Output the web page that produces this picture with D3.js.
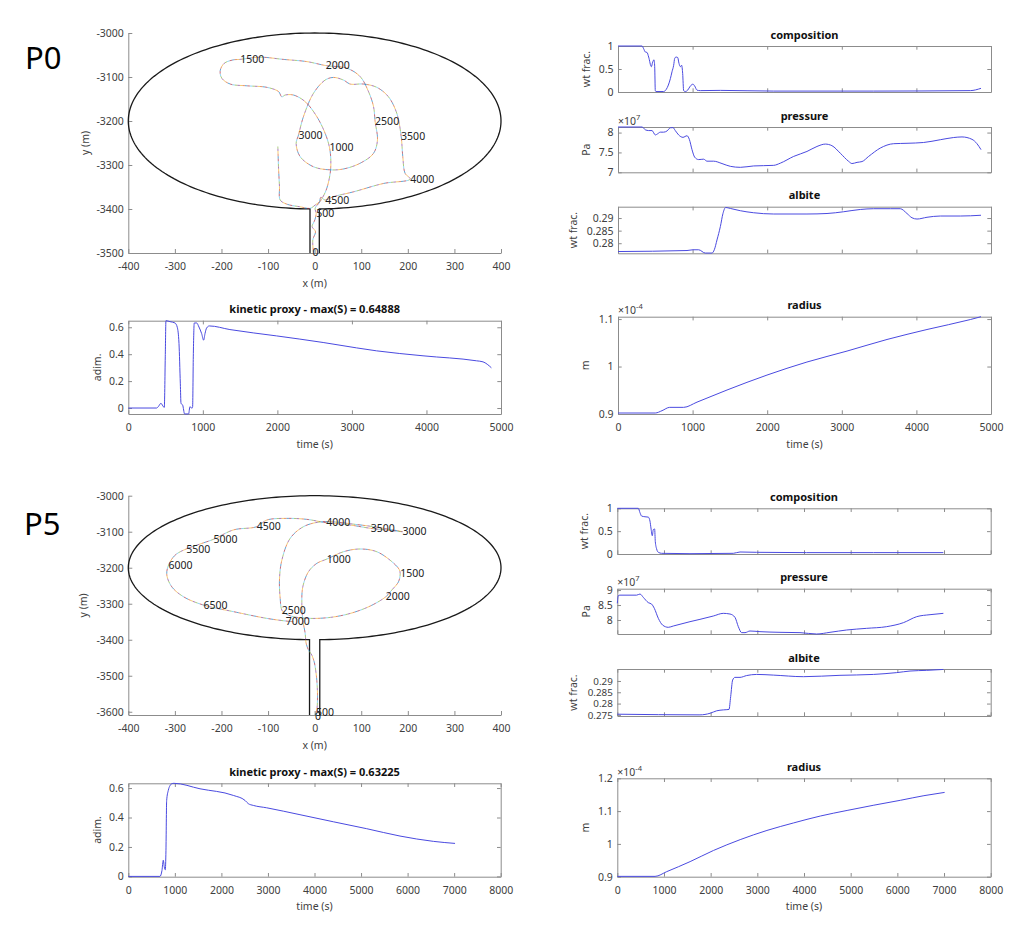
<!DOCTYPE html>
<html><head><meta charset="utf-8">
<script src="https://cdn.jsdelivr.net/npm/d3@7"></script>
<style>body{margin:0;background:#fff}svg{display:block;font-family:"Noto Sans","Open Sans",sans-serif}</style>
</head><body><svg id="c" width="1024" height="930"></svg>
<script>
// ================= DATA =================
// P0 trajectory (m)
const p0TrajX = [-2.5,-3.9,1.8,-5.4,0.4,3.2,1.1, 11.8,24.7,33.3,34.7,31.8, 22.5,4.6,-20.4,-45.4,-63.3,-70.5,-77.6,-102.6,-145.6,-181.3,-199.2,-202.8,-194.2,-174.2,-159.9, -117,-66.9,-16.8,24, 69,97.6,115.5,126.3,129.8, 134.8,126.3,97.6,61.9,33.3,-2.5,-31.1,-39.7,-34.7, -24,-2.5,22.5,40.4,61.9,76.2,104.8,133.4,158.4,176.3,185.6, 189.2,194.2,205, 147.7,83.3,40.4,22.5, 13.2,10.4,1.1,-9.7,-31.1,-59.7,-74,-75.5,-77.6,-79];
const p0TrajY = [-3499,-3470,-3451.5,-3440,-3425,-3410,-3398.5, -3383,-3357,-3319,-3289,-3260, -3228,-3190,-3156,-3141,-3141,-3145,-3133,-3123.5,-3120,-3116,-3103,-3086,-3069,-3061,-3060, -3055,-3060,-3065,-3074, -3080,-3099,-3133,-3167,-3201.5, -3243,-3273.5,-3296,-3309,-3311,-3304,-3281,-3251,-3232, -3190,-3137,-3107,-3101,-3107,-3116,-3116,-3123.5,-3145,-3182.5,-3234, -3281,-3319,-3332, -3342,-3361,-3372,-3379.5, -3373.5,-3383,-3391,-3398.5,-3395,-3389,-3379.5,-3349,-3304,-3258];
const p0LabelT = [0,500,1000,1500,2000,2500,3000,3500,4000,4500];
const p0LabelX = [-4.5,3.2,31.8,-159.9,24,129.8,-34.7,185.6,205,22.5];
const p0LabelY = [-3499,-3410,-3260,-3060,-3074,-3201.5,-3232,-3234,-3332,-3379.5];

// P5 trajectory (m)
const p5TrajX = [1.1,4.6,6.1,4.6,1.1,-1.1,-6.1,-13.2,-18.2,-20.4,-25.4,-27.5,-25.4,-13.2,4.6,26.1, 61.9,97.6,133.4,165.6,181.4,183.6, 180,165.6,152.7, 119.1,76.2,33.3,-9.7,-45.4,-63.3,-70.4, -74,-75.5,-70.4,-52.6,-24,11.8,40.4,83.3,126.3,169.2,188.6, 155,120.5, 76.2,24.7, -16.8,-59.7,-102.6,-124.1, -174.2,-217, -245.7,-275.8, -299.4,-313.7, -317.3,-306.6,-281.5,-238.6, -174.2,-102.6,-61.9,-45.4];
const p5TrajY = [-3609,-3595,-3558,-3512,-3475,-3461,-3442.6,-3428.7,-3410,-3382,-3345,-3299,-3253,-3211,-3188,-3176, -3155.6,-3148,-3155.6,-3183,-3204.6,-3215.7, -3239,-3262,-3280.6, -3306.5,-3327,-3338,-3340.7,-3336,-3327,-3317.6, -3285,-3234,-3179,-3118.5,-3086,-3072.7,-3072.7,-3079,-3086,-3095.4,-3100, -3095.4,-3090.7, -3081.5,-3075, -3065.7,-3063,-3067.6,-3086, -3095,-3121, -3134,-3148, -3165,-3193, -3220,-3253,-3280.6,-3303.7, -3322,-3340.7,-3348,-3350];
const p5LabelT = [0,500,1000,1500,2000,2500,3000,3500,4000,4500,5000,5500,6000,6500,7000];
const p5LabelX = [1,3,26.1,183.6,152.7,-70.4,188.6,120.5,24.7,-124.1,-217,-275.8,-313.7,-238.6,-61.9];
const p5LabelY = [-3614,-3602,-3176,-3215.7,-3280.6,-3317.6,-3100,-3090.7,-3075,-3086,-3121,-3148,-3193,-3303.7,-3348];

// chamber geometry (m): ellipse centre y, semi-axes, conduit half-width, conduit bottom
const chamberCY = -3200, chamberA = 400, chamberB = 200;
const conduitHW = [10, 11];
const conduitBottom = [-3500, -3609];

// P0 time series
const p0CompT = [0,322,344,366,389,411,447,465,483,492,500,509,612,648,702,724,746,760,777,800,818,836,853,867,880,902,934,970,1005,1028,1059,1104,1372,2087,3427,4723,4866];
const p0CompV = [1,1,0.94,0.87,0.86,0.76,0.55,0.65,0.70,0.55,0.03,0.01,0.01,0.06,0.29,0.44,0.58,0.73,0.76,0.75,0.62,0.55,0.58,0.40,0.03,0.01,0.04,0.13,0.17,0.13,0.04,0.03,0.035,0.02,0.02,0.03,0.08];
const p0PresT = [0,322,366,411,456,500,532,567,612,657,702,737,768,813,871,925,956,992,1028,1081,1148,1193,1282,1394,1506,1640,1818,2087,2176,2355,2533,2667,2779,2868,2980,3092,3137,3204,3271,3360,3516,3695,3874,4097,4321,4500,4611,4745,4812,4866];
const p0PresV = [8.14,8.14,8.07,8.05,8.05,7.94,7.97,8.01,8.01,8.04,8.12,8.125,8.05,7.94,7.88,7.92,7.83,7.57,7.38,7.32,7.33,7.28,7.28,7.22,7.15,7.125,7.16,7.175,7.23,7.4,7.525,7.65,7.71,7.67,7.48,7.275,7.22,7.25,7.27,7.4,7.61,7.72,7.73,7.75,7.82,7.875,7.89,7.83,7.72,7.57]; // x1e7 Pa
const p0AlbT = [0,925,1005,1081,1170,1260,1291,1327,1372,1407,1443,1506,1640,1818,2087,2533,2802,3025,3248,3427,3650,3784,3874,3941,4008,4142,4321,4589,4866];
const p0AlbV = [0.2767,0.2771,0.2774,0.2774,0.2761,0.2761,0.2774,0.2813,0.2866,0.2918,0.2942,0.2938,0.2929,0.2921,0.2916,0.2916,0.2918,0.2925,0.2934,0.2937,0.2937,0.2937,0.2918,0.2901,0.2896,0.2903,0.2908,0.2908,0.2911];
const p0KinT = [0,380,402,438,470,483,496,505,559,626,657,680,698,707,729,756,809,827,854,863,872,885,917,948,984,1011,1029,1051,1087,1363,1989,2614,3061,3330,3954,4670,4759,4871];
const p0KinV = [0,0,0.01,0.035,0.01,0.005,0.38,0.64888,0.642,0.632,0.60,0.48,0.18,0.035,0.022,-0.044,-0.044,0.01,-0.002,0.01,0.38,0.632,0.632,0.602,0.553,0.504,0.553,0.595,0.61,0.583,0.536,0.487,0.447,0.425,0.388,0.351,0.343,0.299];
const p0RadT = [0,500,590,693,880,1059,1461,1997,2533,3070,3606,4142,4723,4866];
const p0RadV = [0.9021,0.9021,0.907,0.914,0.914,0.925,0.9505,0.982,1.0095,1.0326,1.057,1.078,1.099,1.105]; // x1e-4 m

// P5 time series
const p5CompT = [0,450,486,521,593,664,700,721,750,771,800,814,843,879,950,1557,2486,2629,2986,4057,5486,6986];
const p5CompV = [1,1,0.904,0.83,0.815,0.807,0.72,0.57,0.40,0.533,0.548,0.274,0.11,0.037,0.015,0.007,0.015,0.044,0.037,0.03,0.03,0.03];
const p5PresT = [0,21,57,414,486,557,664,736,793,879,971,1093,1200,1557,1771,2057,2271,2414,2521,2593,2664,2736,2843,3057,3486,3914,4271,4557,4914,5343,5771,6129,6414,6700,6986];
const p5PresV = [8.556,8.81,8.83,8.83,8.867,8.756,8.58,8.53,8.39,8.056,7.83,7.756,7.8,7.944,8.022,8.133,8.222,8.2,8.089,7.778,7.578,7.578,7.633,7.611,7.589,7.578,7.533,7.589,7.667,7.722,7.778,7.911,8.111,8.178,8.222];
const p5AlbT = [0,1771,1986,2129,2271,2393,2429,2471,2521,2629,2771,2986,3343,3986,4771,5486,5986,6271,6629,6986];
const p5AlbV = [0.2753,0.275,0.2757,0.2768,0.2772,0.2774,0.2831,0.2904,0.2916,0.2916,0.2924,0.2929,0.2926,0.2919,0.2925,0.2929,0.2937,0.2944,0.2947,0.2951];
const p5KinT = [0,466,680,723,752,774,795,809,824,859,895,931,981,1540,2256,2507,2578,2686,2972,3688,4405,5121,5837,6553,7019];
const p5KinV = [0,0,0,0.04,0.11,0.063,0.045,0.177,0.516,0.584,0.616,0.629,0.63225,0.595,0.55,0.516,0.494,0.482,0.466,0.419,0.371,0.324,0.274,0.238,0.224];
const p5RadT = [0,809,1059,1560,2061,2633,3206,3778,4351,4923,5496,6068,6569,7013];
const p5RadV = [0.901,0.901,0.9154,0.946,0.980,1.013,1.041,1.064,1.085,1.102,1.118,1.133,1.147,1.157];

// tick values
const trajXTicks = [-400,-300,-200,-100,0,100,200,300,400];
const p0TrajYTicks = [-3500,-3400,-3300,-3200,-3100,-3000];
const p5TrajYTicks = [-3600,-3500,-3400,-3300,-3200,-3100,-3000];
const p0TimeTicks = [0,1000,2000,3000,4000,5000];
const p5TimeTicks = [0,1000,2000,3000,4000,5000,6000,7000,8000];
const compTicks = [0,0.5,1];
const p0PresTicks = [7,7.5,8];
const p5PresTicks = [8,8.5,9];
const p0AlbTicks = [0.28,0.285,0.29];
const p5AlbTicks = [0.275,0.28,0.285,0.29];
const p0RadTicks = [0.9,1,1.1];
const p5RadTicks = [0.9,1,1.1,1.2];
const kinTicks = [0,0.2,0.4,0.6];
const trajColors = ['#0072BD','#D95319','#EDB120','#7E2F8E','#77AC30','#4DBEEE','#A2142F'];

// ================= DRAW =================
const svg = d3.select('#c');
const AX = '#8c8c8c', TXT = '#404040', FS = 10.5, TL = 3.7;
const fmt = v => String(v);
const zip = (a, b) => a.map((v, i) => [v, b[i]]);

function styleAxis(g, fs) {
  g.attr('font-family', null).attr('font-size', fs || FS);
  g.selectAll('.domain').attr('stroke', AX);
  g.selectAll('.tick line').attr('stroke', AX);
  g.selectAll('.tick text').attr('fill', TXT);
}

function expLabel(x0, yb, e) {
  const t = svg.append('text').attr('x', x0).attr('y', yb).attr('font-size', FS).attr('fill', TXT);
  t.append('tspan').text('×10');
  t.append('tspan').attr('dy', -5).attr('font-size', 7.5).text(e);
}

function seriesPanel(o) {
  const x = d3.scaleLinear().domain(o.xDomain).range([o.x0, o.x1]);
  const y = d3.scaleLinear().domain(o.yDomain).range([o.y1, o.y0]);
  const g = svg.append('g');
  const fx = o.xLabels ? fmt : () => '';
  styleAxis(g.append('g').attr('transform', `translate(0,${o.y1})`)
    .call(d3.axisBottom(x).tickValues(o.xTicks).tickSizeInner(-TL).tickSizeOuter(0).tickPadding(9.4).tickFormat(fx)));
  styleAxis(g.append('g').attr('transform', `translate(0,${o.y0})`)
    .call(d3.axisTop(x).tickValues(o.xTicks).tickSizeInner(-TL).tickSizeOuter(0).tickFormat(() => '')));
  styleAxis(g.append('g').attr('transform', `translate(${o.x0},0)`)
    .call(d3.axisLeft(y).tickValues(o.yTicks).tickSizeInner(-TL).tickSizeOuter(0).tickPadding(4.5).tickFormat(fmt)), o.yfs);
  styleAxis(g.append('g').attr('transform', `translate(${o.x1},0)`)
    .call(d3.axisRight(y).tickValues(o.yTicks).tickSizeInner(-TL).tickSizeOuter(0).tickFormat(() => '')));
  g.append('path')
    .datum(zip(o.t, o.v))
    .attr('d', d3.line().x(d => x(d[0])).y(d => y(d[1])).curve(d3.curveMonotoneX))
    .attr('fill', 'none').attr('stroke', '#4a4ae0').attr('stroke-width', 1);
  g.append('text').attr('x', (o.x0 + o.x1) / 2).attr('y', o.y0 - 7.5)
    .attr('text-anchor', 'middle').attr('font-weight', 'bold').attr('font-size', 11).attr('fill', '#111').text(o.title);
  g.append('text').attr('transform', `translate(${o.ylx},${(o.y0 + o.y1) / 2}) rotate(-90)`)
    .attr('dy', '0.35em').attr('text-anchor', 'middle').attr('font-size', FS).attr('fill', TXT).text(o.ylabel);
  if (o.xlabel) g.append('text').attr('x', (o.x0 + o.x1) / 2).attr('y', o.y1 + 30).attr('dy', '0.35em')
    .attr('text-anchor', 'middle').attr('font-size', FS).attr('fill', TXT).text(o.xlabel);
  if (o.exp) expLabel(o.x0, o.y0 - 2.5, o.exp);
}

function trajPanel(o) {
  const x = d3.scaleLinear().domain([-400, 400]).range([o.x0, o.x1]);
  const y = d3.scaleLinear().domain(o.yDomain).range([o.y1, o.y0]);
  const g = svg.append('g');
  styleAxis(g.append('g').attr('transform', `translate(0,${o.y1})`)
    .call(d3.axisBottom(x).tickValues(trajXTicks).tickSizeInner(-4).tickSizeOuter(0).tickPadding(9.4).tickFormat(fmt)));
  styleAxis(g.append('g').attr('transform', `translate(${o.x0},0)`)
    .call(d3.axisLeft(y).tickValues(o.yTicks).tickSizeInner(-4).tickSizeOuter(0).tickPadding(4.5).tickFormat(fmt)));
  // chamber + conduit outline
  const hw = o.hw, d = Math.asin(hw / chamberA);
  const pts = [[hw, o.yBot]];
  d3.range(0, 241).forEach(i => {
    const th = -Math.PI / 2 + d + (2 * Math.PI - 2 * d) * i / 240;
    pts.push([chamberA * Math.cos(th), chamberCY + chamberB * Math.sin(th)]);
  });
  pts.push([-hw, o.yBot]);
  g.append('path').datum(pts).attr('d', d3.line().x(p => x(p[0])).y(p => y(p[1])))
    .attr('fill', 'none').attr('stroke', '#1a1a1a').attr('stroke-width', 1.3);
  // trajectory (multicolour dashed)
  const line = d3.line().x(p => x(p[0])).y(p => y(p[1])).curve(d3.curveCatmullRom.alpha(0.5));
  const data = zip(o.tx, o.ty);
  const n = trajColors.length, dash = 2.5;
  trajColors.forEach((c, i) => {
    g.append('path').datum(data).attr('d', line).attr('fill', 'none')
      .attr('stroke', c).attr('stroke-width', 0.9).attr('stroke-opacity', 0.7)
      .attr('stroke-dasharray', `${dash} ${dash * (n - 1)}`).attr('stroke-dashoffset', -i * dash);
  });
  // time labels
  o.lt.forEach((t, i) => {
    g.append('text').attr('x', x(o.lx[i])).attr('y', y(o.ly[i])).attr('dy', '0.35em')
      .attr('font-size', FS).attr('fill', '#222').text(t);
  });
  g.append('text').attr('x', x(0)).attr('y', o.y1 + 30).attr('dy', '0.35em')
    .attr('text-anchor', 'middle').attr('font-size', FS).attr('fill', TXT).text('x (m)');
  g.append('text').attr('transform', `translate(${o.ylx},${(o.y0 + o.y1) / 2}) rotate(-90)`)
    .attr('dy', '0.35em').attr('text-anchor', 'middle').attr('font-size', FS).attr('fill', TXT).text('y (m)');
  svg.append('text').attr('x', o.tagX).attr('y', o.tagY).attr('font-size', 31).attr('fill', '#000').text(o.tag);
}

// ---- P0 ----
trajPanel({x0: 128.3, x1: 501, y0: 33, y1: 253, yDomain: [-3500, -3000], yTicks: p0TrajYTicks,
  hw: conduitHW[0], yBot: conduitBottom[0], tx: p0TrajX, ty: p0TrajY, lt: p0LabelT, lx: p0LabelX, ly: p0LabelY,
  ylx: 85, tag: 'P0', tagX: 25, tagY: 69});
seriesPanel({x0: 128.3, x1: 501, y0: 320.7, y1: 414, xDomain: [0, 5000], xTicks: p0TimeTicks, xLabels: true,
  yDomain: [-0.0444, 0.64888], yTicks: kinTicks, t: p0KinT, v: p0KinV,
  title: 'kinetic proxy - max(S) = 0.64888', ylabel: 'adim.', ylx: 97, xlabel: 'time (s)'});
seriesPanel({x0: 618, x1: 991, y0: 46, y1: 92, xDomain: [0, 5000], xTicks: p0TimeTicks,
  yDomain: [0, 1], yTicks: compTicks, t: p0CompT, v: p0CompV, title: 'composition', ylabel: 'wt frac.', ylx: 586});
seriesPanel({x0: 618, x1: 991, y0: 127, y1: 172.3, xDomain: [0, 5000], xTicks: p0TimeTicks,
  yDomain: [7, 8.14], yTicks: p0PresTicks, t: p0PresT, v: p0PresV, title: 'pressure', ylabel: 'Pa', ylx: 586, exp: '7'});
seriesPanel({x0: 618, x1: 991, y0: 206.7, y1: 253.3, xDomain: [0, 5000], xTicks: p0TimeTicks,
  yDomain: [0.2760, 0.2945], yTicks: p0AlbTicks, t: p0AlbT, v: p0AlbV, title: 'albite', ylabel: 'wt frac.', ylx: 573});
seriesPanel({x0: 618, x1: 991, y0: 316.7, y1: 414, xDomain: [0, 5000], xTicks: p0TimeTicks, xLabels: true,
  yDomain: [0.9, 1.105], yTicks: p0RadTicks, t: p0RadT, v: p0RadV, title: 'radius', ylabel: 'm', ylx: 585,
  exp: '-4', xlabel: 'time (s)'});

// ---- P5 ----
trajPanel({x0: 128.3, x1: 501, y0: 495.7, y1: 715, yDomain: [-3609, -3000], yTicks: p5TrajYTicks,
  hw: conduitHW[1], yBot: conduitBottom[1], tx: p5TrajX, ty: p5TrajY, lt: p5LabelT, lx: p5LabelX, ly: p5LabelY,
  ylx: 83.5, tag: 'P5', tagX: 24, tagY: 535});
seriesPanel({x0: 128.3, x1: 500.7, y0: 783.3, y1: 876.7, xDomain: [0, 8000], xTicks: p5TimeTicks, xLabels: true,
  yDomain: [-0.002, 0.63225], yTicks: kinTicks, t: p5KinT, v: p5KinV,
  title: 'kinetic proxy - max(S) = 0.63225', ylabel: 'adim.', ylx: 97, xlabel: 'time (s)'});
seriesPanel({x0: 617.3, x1: 990.7, y0: 508.3, y1: 554, xDomain: [0, 8000], xTicks: p5TimeTicks,
  yDomain: [0, 1], yTicks: compTicks, t: p5CompT, v: p5CompV, title: 'composition', ylabel: 'wt frac.', ylx: 584});
seriesPanel({x0: 617.3, x1: 990.7, y0: 588.7, y1: 634, xDomain: [0, 8000], xTicks: p5TimeTicks,
  yDomain: [7.533, 9.045], yTicks: p5PresTicks, t: p5PresT, v: p5PresV, title: 'pressure', ylabel: 'Pa', ylx: 586, exp: '7'});
seriesPanel({x0: 617.3, x1: 990.7, y0: 669, y1: 716, xDomain: [0, 8000], xTicks: p5TimeTicks,
  yDomain: [0.2745, 0.2953], yTicks: p5AlbTicks, t: p5AlbT, v: p5AlbV, title: 'albite', ylabel: 'wt frac.', ylx: 573, yfs: 9.8});
seriesPanel({x0: 617.3, x1: 990.7, y0: 778.3, y1: 876.7, xDomain: [0, 8000], xTicks: p5TimeTicks, xLabels: true,
  yDomain: [0.9, 1.2], yTicks: p5RadTicks, t: p5RadT, v: p5RadV, title: 'radius', ylabel: 'm', ylx: 585,
  exp: '-4', xlabel: 'time (s)'});
</script></body></html>
